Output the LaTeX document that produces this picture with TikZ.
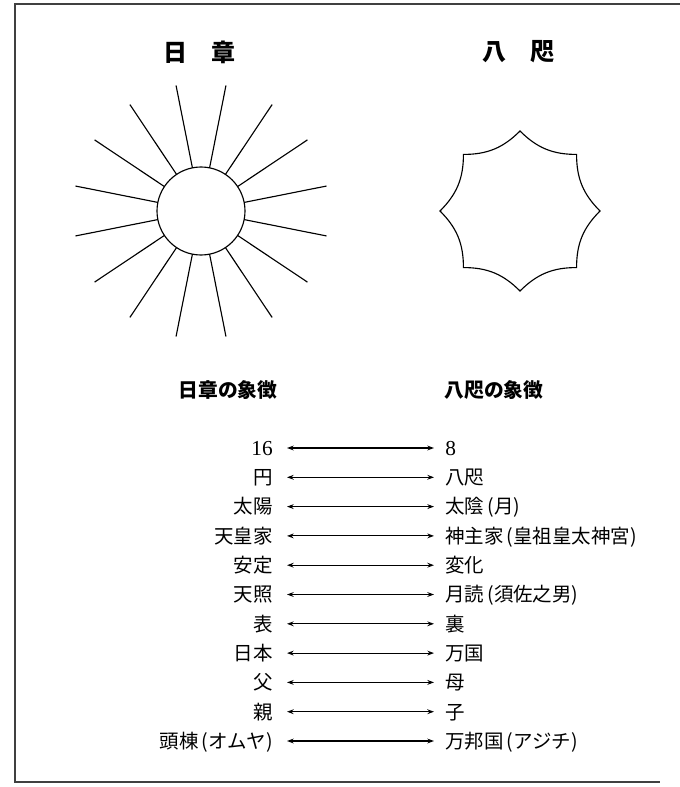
\documentclass[tikz,border=0pt]{standalone}
\usepackage{fontspec}
\setmainfont{Liberation Serif}
\newfontfamily\jp{Noto Sans CJK JP}
\usetikzlibrary{arrows.meta}
\tikzstyle{frame} = [line width=1.1pt, black!75]
\tikzstyle{emblem} = [line width=0.85pt]
\tikzstyle{title} = [font=\jp\bfseries\fontsize{18}{20}\selectfont]
\tikzstyle{head} = [font=\jp\bfseries\fontsize{14.8}{17}\selectfont]
\tikzstyle{entry} = [inner ysep=0pt, text height=12.8pt, text depth=1.8pt,
font=\jp\fontsize{14.6}{17}\selectfont]
\tikzstyle{lft} = [entry, anchor=east, inner xsep=10.5pt]
\tikzstyle{rgt} = [entry, anchor=west, inner xsep=8.25pt]
\tikzstyle{pair} = [{Stealth[length=5pt,width=3.6pt]}-{Stealth[length=5pt,width=3.6pt]}, line width=0.8pt]

\begin{document}
\begin{tikzpicture}[x=0.75pt,y=-0.75pt]
\useasboundingbox (0,0) rectangle (680,787);
\draw[frame] (680,4) -- (15,4) -- (15,782) -- (660,782);

\node[title] (t-sun) at (199,52) {日\hspace{1em}章};
\node[title] (t-yata) at (518,52) {八\hspace{1em}咫};

% sun: circle and 16 rays
\begin{scope}[shift={(201,211)}]
\draw[emblem] (0,0) circle (44);
\foreach \a in {11.25,33.75,...,348.75}
  \draw[emblem] (\a:44) -- (\a:128);
\end{scope}

% eight concave edges
\draw[emblem, shift={(520,211)}] (0:80)
  \foreach \a in {45,90,...,360} { to[bend right=22.5] (\a:80) } -- cycle;

\node[head] (h-sun) at (228,390) {日章の象徴};
\node[head] (h-yata) at (494,390) {八咫の象徴};

\foreach \L/\R [count=\i] in {{\fontsize{16}{17}\selectfont\textrm{16}}/{\fontsize{16}{17}\selectfont\textrm{8}},
  円/八咫, 太陽/太陰\,(月),
  天皇家/神主家\,(皇祖皇太神宮), 安定/変化, 天照/月読\,(須佐之男), 表/裏,
  日本/万国, 父/母, 親/子, 頭棟\,(オムヤ)/万邦国\,(アジチ)}
{
\node[lft] (l-\i) at (287,{448+29.3*(\i-1)}) {\L};
\node[rgt] (r-\i) at (434,{448+29.3*(\i-1)}) {\R};
\draw[pair] (l-\i.east) -- (r-\i.west);
}
\end{tikzpicture}
\end{document}
